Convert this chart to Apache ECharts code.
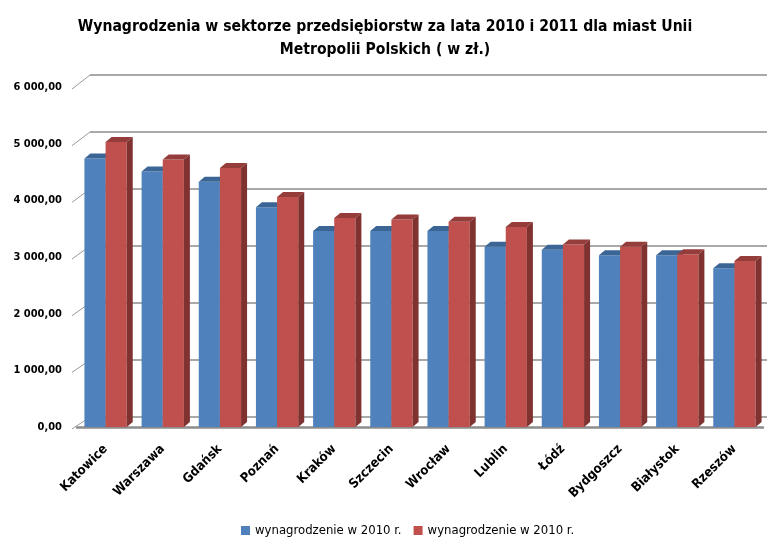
<!DOCTYPE html>
<html>
<head>
<meta charset="utf-8">
<script src="https://cdn.jsdelivr.net/npm/echarts@6/dist/echarts.min.js"></script>
<style>
  html, body { margin: 0; padding: 0; background: #fff; }
  #chart { width: 767px; height: 537px; }
</style>
</head>
<body>
<div id="chart"></div>
<script>
// dane
var miasta = ['Katowice', 'Warszawa', 'Gdańsk', 'Poznań', 'Kraków', 'Szczecin',
    'Wrocław', 'Lublin', 'Łódź', 'Bydgoszcz', 'Białystok', 'Rzeszów'];
var wyn2010 = [4740, 4510, 4330, 3880, 3460, 3460, 3460, 3180, 3130, 3030, 3030, 2800];
var wyn2011 = [5030, 4720, 4570, 4060, 3690, 3660, 3620, 3530, 3220, 3180, 3050, 2930];
var osY = [0, 1000, 2000, 3000, 4000, 5000, 6000];
var nazwaLegendy = 'wynagrodzenie w 2010 r.';

var font = '"Liberation Sans Narrow", "DejaVu Sans Condensed", sans-serif';

var chart = echarts.init(document.getElementById('chart'));

function fmt(v) {
    // 6000 -> "6 000,00"
    var s = String(Math.round(v));
    s = s.replace(/\B(?=(\d{3})+(?!\d))/g, ' ');
    return s + ',00';
}

// kolory: przod, gora, bok
var kolory = [
    ['#4F81BD', '#3A6595', '#385D8A'],
    ['#C0504D', '#943D3B', '#7F3230']
];

function slupek3d(idx) {
    return function (params, api) {
        var i = api.value(0);
        var v = api.value(1);
        var dol = api.coord([i, 0]);
        var gora = api.coord([i, v]);
        var bw = api.size([1, 0])[0];
        var w = bw * 0.37;
        var x0 = dol[0] - w + idx * w;
        var yt = gora[1], yb = dol[1];
        var dx = 6, dy = -5;
        var k = kolory[idx];
        return {
            type: 'group',
            children: [
                { type: 'rect', shape: { x: x0, y: yt, width: w, height: yb - yt },
                  style: { fill: k[0] } },
                { type: 'polygon', shape: { points: [[x0, yt], [x0 + dx, yt + dy], [x0 + w + dx, yt + dy], [x0 + w, yt]] },
                  style: { fill: k[1] } },
                { type: 'polygon', shape: { points: [[x0 + w, yt], [x0 + w + dx, yt + dy], [x0 + w + dx, yb + dy], [x0 + w, yb]] },
                  style: { fill: k[2] } }
            ]
        };
    };
}

var option = {
    backgroundColor: '#fff',
    title: {
        text: 'Wynagrodzenia w sektorze przedsiębiorstw za lata 2010 i 2011 dla miast Unii\nMetropolii Polskich ( w zł.)',
        left: 380,
        textAlign: 'center',
        top: 10,
        textStyle: { fontFamily: font, fontSize: 15.6, fontWeight: 'bold', color: '#000', lineHeight: 23 }
    },
    legend: {
        bottom: -5,
        left: 236,
        itemWidth: 9,
        itemHeight: 9,
        itemGap: 12,
        icon: 'rect',
        data: [
            { name: '2010', itemStyle: { color: kolory[0][0] } },
            { name: '2011', itemStyle: { color: kolory[1][0] } }
        ],
        formatter: function () { return nazwaLegendy; },
        textStyle: { fontFamily: font, fontSize: 13, color: '#000' }
    },
    grid: [
        // siatka na tylnej scianie
        { left: 90, right: 0, top: 75, bottom: 120 },
        // slupki i etykiety
        { left: 77, right: 4, top: 87, bottom: 110 }
    ],
    xAxis: [
        { type: 'category', gridIndex: 0, data: miasta, show: false },
        {
            type: 'category', gridIndex: 1, data: miasta,
            axisLine: { lineStyle: { color: '#8c8c8c', width: 2.5 } },
            axisTick: { show: false },
            axisLabel: {
                rotate: 45, margin: 20, interval: 0,
                fontFamily: font, fontSize: 13, fontWeight: 'bold', color: '#000'
            }
        }
    ],
    yAxis: [
        {
            type: 'value', gridIndex: 0, min: 0, max: 6000, interval: 1000,
            axisLine: { show: false }, axisTick: { show: false }, axisLabel: { show: false },
            splitLine: { lineStyle: { color: '#8c8c8c', width: 1.5 } }
        },
        {
            type: 'value', gridIndex: 1, min: 0, max: 6000, interval: 1000,
            axisLine: { show: false }, axisTick: { show: false },
            splitLine: { show: false },
            axisLabel: {
                margin: 15, formatter: fmt,
                fontFamily: font, fontSize: 11, fontWeight: 'bold', color: '#000'
            }
        }
    ],
    series: [
        {
            name: '2010', type: 'custom', xAxisIndex: 1, yAxisIndex: 1,
            itemStyle: { color: kolory[0][0] },
            renderItem: slupek3d(0),
            data: wyn2010.map(function (v, i) { return [i, v]; })
        },
        {
            name: '2011', type: 'custom', xAxisIndex: 1, yAxisIndex: 1,
            itemStyle: { color: kolory[1][0] },
            renderItem: slupek3d(1),
            data: wyn2011.map(function (v, i) { return [i, v]; })
        }
    ]
};

chart.setOption(option);

// ukosne kreski lewej sciany (od etykiety do tylnej siatki)
var kreski = osY.map(function (v) {
    var p1 = chart.convertToPixel({ gridIndex: 1 }, [0, v]);
    var p2 = chart.convertToPixel({ gridIndex: 0 }, [0, v]);
    return {
        type: 'line',
        shape: { x1: 72, y1: p1[1] + 2, x2: 90, y2: p2[1] },
        style: { stroke: '#9a9a9a', lineWidth: 1 }
    };
});
chart.setOption({ graphic: kreski });
</script>
</body>
</html>
